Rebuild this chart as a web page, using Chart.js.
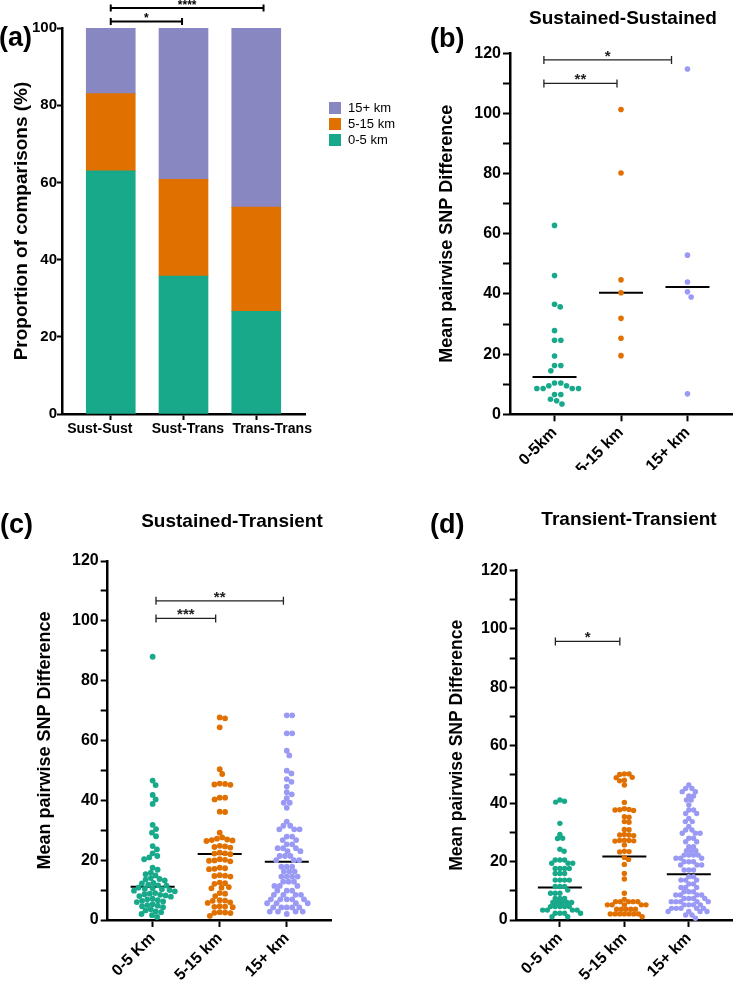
<!DOCTYPE html>
<html>
<head>
<meta charset="utf-8">
<title>Pairwise SNP difference by distance</title>
<script src="https://cdn.jsdelivr.net/npm/chart.js@4.4.1/dist/chart.umd.min.js"></script>
<style>
  html, body { margin: 0; padding: 0; background: #fff; }
  body { position: relative; width: 736px; height: 985px; overflow: hidden; font-family: 'Liberation Sans', Arial, sans-serif; }
  canvas { position: absolute; }
  .tag { position: absolute; font-size: 27px; font-weight: bold; line-height: 1; color: #000; }
  .head { position: absolute; width: 300px; text-align: center; font-size: 19px; font-weight: bold; line-height: 1; color: #000; }
</style>
</head>
<body>
<canvas id="panelA" width="420" height="470" style="left:0;top:0"></canvas>
<canvas id="panelB" width="311" height="470" style="left:425px;top:0"></canvas>
<canvas id="panelC" width="368" height="505" style="left:0;top:480px"></canvas>
<canvas id="panelD" width="368" height="505" style="left:368px;top:480px"></canvas>
<div class="tag" style="left:-1px;top:24px">(a)</div>
<div class="tag" style="left:430px;top:25px">(b)</div>
<div class="tag" style="left:0;top:511px">(c)</div>
<div class="tag" style="left:430px;top:511px">(d)</div>
<div class="head" style="left:473px;top:8px">Sustained-Sustained</div>
<div class="head" style="left:82px;top:511px">Sustained-Transient</div>
<div class="head" style="left:479px;top:509px">Transient-Transient</div>
<script>
Chart.defaults.font.family = "'Liberation Sans', Arial, sans-serif";
Chart.defaults.color = '#000';

// (a) proportion of comparisons per distance band
const pairTypes = ['Sust-Sust', 'Sust-Trans', 'Trans-Trans'];
const bandNames = ['0-5 km', '5-15 km', '15+ km'];
const pct0to5 = [63.0, 35.7, 26.6];
const pct5to15 = [20.0, 25.1, 27.0];
const pct15plus = [17.0, 39.2, 46.4];
const pctTicks = [0, 20, 40, 60, 80, 100];

// (b)-(d) mean pairwise SNP difference
const snpTicks = [0, 20, 40, 60, 80, 100, 120];
const labelsB = ['0-5km', '5-15 km', '15+ km'];
const labelsC = ['0-5 Km', '5-15 km', '15+ km'];
const labelsD = ['0-5 km', '5-15 km', '15+ km'];

// Sustained-Sustained
const susSus0to5 = [62.8, 46.1, 36.6, 35.7, 27.8, 24.6, 24.6, 19.4, 16.2, 16.2, 14.5, 10.4, 10.4,
  9.5, 9.5, 8.6, 8.6, 8.6, 8.6, 6.6, 6.6, 5.0, 4.5, 3.4];
const susSus5to15 = [101.3, 80.2, 44.7, 40.4, 31.9, 25.3, 19.5];
const susSus15plus = [114.8, 52.9, 44.0, 40.7, 39.0, 6.8];
const susSusMedians = [12.4, 40.4, 42.3];

// Sustained-Transient
const susTr0to5 = [88.0, 46.6, 45.1, 41.8, 40.3, 38.8, 31.8, 30.4, 29.2, 28.0, 24.7, 23.6, 22.3, 21.4, 20.9, 20.3,
  17.5, 16.8, 15.8, 15.3, 14.9, 14.0, 13.7, 13.5, 13.2, 12.4, 12.2, 11.8, 11.6, 11.5,
  10.8, 10.6, 10.4, 10.3, 10.0, 9.8, 9.6, 9.0, 8.8, 8.6, 8.4, 8.2, 8.0, 7.8,
  7.1, 6.9, 6.6, 6.4, 6.2, 6.0, 5.3, 5.0, 4.8, 4.6, 4.3,
  3.6, 3.2, 2.9, 2.6, 2.0, 1.6, 1.0];
const susTr5to15 = [67.7, 67.4, 64.4, 50.4, 48.8, 45.6, 45.5, 45.3, 45.2, 40.9, 40.9, 40.3, 36.2, 36.1,
  29.2, 27.6, 27.2, 26.9, 26.7, 26.6, 26.4, 24.8, 24.6, 24.4, 24.2, 22.5, 22.3, 22.2, 22.0,
  20.3, 20.1, 19.9, 19.8, 19.6, 17.5, 17.3, 17.1, 17.0, 15.0, 14.8, 14.7, 14.5,
  12.5, 12.3, 12.1, 11.0, 10.8, 10.6, 9.0, 8.8, 8.0, 6.6, 6.5, 6.4, 5.9, 5.7,
  4.6, 4.5, 4.4, 4.3, 2.6, 2.5, 2.4, 2.3, 1.4];
const susTr15plus = [68.4, 68.4, 62.4, 62.4, 56.6, 55.0, 49.9, 49.0, 47.1, 46.2, 44.6, 42.7, 42.0, 40.7, 39.2, 39.2, 37.5,
  32.9, 31.5, 31.5, 30.3, 30.3, 30.3, 27.9, 27.9, 26.7, 26.7, 25.3, 25.3, 24.0, 24.0, 24.0, 23.0, 23.0,
  21.4, 21.4, 21.4, 20.0, 20.0, 20.0,
  17.8, 17.8, 17.8, 16.2, 16.2, 16.2, 14.5, 14.5, 14.5, 14.5, 12.8, 12.8, 12.8, 11.4, 11.4, 11.4,
  9.8, 9.8, 9.8, 8.4, 8.4, 8.4, 8.4, 6.9, 6.9, 6.9, 6.9, 6.9, 5.6, 5.6, 5.6, 5.6,
  4.2, 4.2, 4.2, 4.2, 4.2, 2.8, 2.8, 2.8, 2.8, 2.0];
const susTrMedians = [11.1, 22.1, 19.5];

// Transient-Transient
const trTr0to5 = [41.2, 40.8, 40.5, 33.2, 29.4, 28.1, 28.0, 24.3, 23.6,
  20.6, 20.6, 20.6, 19.5, 19.5, 19.5, 17.7, 17.7, 17.7, 17.7, 16.0, 16.0, 16.0,
  13.7, 13.7, 13.7, 13.7, 11.5, 11.5, 11.5, 10.3,
  9.2, 9.2, 9.2, 7.4, 7.4, 7.4, 6.0, 6.0, 6.0, 6.0, 6.0,
  4.6, 4.6, 4.6, 4.6, 4.6, 3.4, 3.4, 3.4, 3.4, 2.3, 2.3, 2.3, 2.3, 1.1, 1.1];
const trTr5to15 = [50.2, 50.2, 50.0, 49.0, 48.9, 48.0, 47.8, 46.4, 40.4,
  38.2, 38.0, 37.9, 37.8, 37.6, 35.5, 35.3, 33.8, 33.6, 31.1, 31.0, 29.4, 29.2, 29.2, 29.0,
  27.4, 27.3, 27.3, 27.2, 27.1, 25.8, 23.6, 23.5, 23.4, 21.5,
  20.8, 19.1, 16.0, 14.1, 9.2, 7.1,
  6.3, 6.3, 6.3, 6.3, 6.3, 5.2, 5.2, 5.2, 5.2, 5.2, 3.7, 3.7, 3.7, 3.7, 3.7,
  2.1, 2.1, 2.1, 2.1, 2.1, 2.1, 2.1, 1.1];
const trTr15plus = [46.4, 45.2, 45.2, 44.1, 44.1, 42.6, 42.6, 41.2, 41.2, 39.5, 37.8, 37.8, 36.6, 36.6,
  34.9, 33.8, 33.8, 32.1, 30.9, 30.9, 29.8, 29.8, 29.8, 28.1, 28.1, 26.9, 26.9, 25.2, 25.2,
  23.8, 23.8, 23.8, 22.3, 22.3, 22.3, 22.3, 21.2, 21.2, 21.2, 20.0, 20.0, 20.0, 18.9, 18.9, 18.9,
  17.2, 17.2, 17.2, 14.9, 14.9, 13.7, 13.7, 13.7, 12.4, 12.4, 11.2, 11.2, 11.2, 9.7, 9.7, 9.7,
  8.6, 8.6, 8.6, 8.6, 7.4, 7.4, 7.4, 7.4, 6.3, 6.3, 6.3, 6.3, 6.3,
  5.2, 5.2, 5.2, 5.2, 4.0, 4.0, 4.0, 4.0, 4.0, 2.9, 2.9, 2.9, 2.9,
  1.7, 1.7, 0.6];
const trTrMedians = [11.2, 21.8, 15.7];

// significance brackets (from/to in category units)
const bracketsA = [{ from: 1, to: 3.1, y: 105.2, label: '****' }, { from: 1, to: 1.98, y: 101.7, label: '*' }];
const bracketsB = [{ from: 0.84, to: 2.76, y: 117.8, label: '*' }, { from: 0.84, to: 1.94, y: 110, label: '**' }];
const bracketsC = [{ from: 1.05, to: 2.95, y: 106.7, label: '**' }, { from: 1.05, to: 1.94, y: 100.8, label: '***' }];
const bracketsD = [{ from: 0.93, to: 1.93, y: 95.7, label: '*' }];

// where the (a) category names sit under the bars
const pairLabelSpots = [0.85, 2.06, 3.22];

const green = '#17a98a', orange = '#e07000';
const barPurple = '#8987c2', dotPurple = '#9a9af5';
const dotColors = [green, orange, dotPurple];

function bracketPlugin(items, style) {
  return {
    id: 'sigBrackets',
    afterDraw(chart) {
      const { ctx, scales: { x, y } } = chart;
      ctx.save();
      ctx.strokeStyle = style.color;
      ctx.fillStyle = style.color;
      ctx.lineWidth = style.width;
      ctx.font = style.font;
      ctx.textAlign = 'center';
      ctx.textBaseline = 'alphabetic';
      items.forEach(b => {
        const x1 = x.getPixelForValue(b.from);
        const x2 = x.getPixelForValue(b.to);
        const py = y.getPixelForValue(b.y);
        ctx.beginPath();
        ctx.moveTo(x1, py - style.cap); ctx.lineTo(x1, py + style.cap);
        ctx.moveTo(x1, py); ctx.lineTo(x2, py);
        ctx.moveTo(x2, py - style.cap); ctx.lineTo(x2, py + style.cap);
        ctx.stroke();
        ctx.fillText(b.label, (x1 + x2) / 2, py + 1);
      });
      ctx.restore();
    }
  };
}

function medianPlugin(medians) {
  return {
    id: 'medians',
    beforeDatasetsDraw(chart) {
      const { ctx, scales: { x, y } } = chart;
      ctx.save();
      ctx.strokeStyle = '#000';
      ctx.lineWidth = 2;
      medians.forEach((m, i) => {
        const cx = x.getPixelForValue(i + 1);
        const py = y.getPixelForValue(m);
        ctx.beginPath();
        ctx.moveTo(cx - 22, py);
        ctx.lineTo(cx + 22, py);
        ctx.stroke();
      });
      ctx.restore();
    }
  };
}

const sideLegend = {
  id: 'sideLegend',
  afterDraw(chart) {
    const { ctx, chartArea } = chart;
    const items = chart.data.datasets.slice().reverse();
    ctx.save();
    ctx.font = "13px 'Liberation Sans', Arial, sans-serif";
    ctx.textBaseline = 'middle';
    items.forEach((ds, i) => {
      const bx = chartArea.right + 24;
      const by = chartArea.top + 74 + i * 16;
      ctx.fillStyle = ds.backgroundColor;
      ctx.fillRect(bx, by, 12, 12);
      ctx.fillStyle = '#000';
      ctx.fillText(ds.label, bx + 19, by + 6.5);
    });
    ctx.restore();
  }
};

const axisLine = { color: '#000', width: 2.5 };
const tickMarks = { display: true, offset: false, drawOnChartArea: false, drawTicks: true, tickLength: 7, tickWidth: 2, tickColor: '#000' };

// (a) stacked bars
new Chart(document.getElementById('panelA'), {
  type: 'bar',
  data: {
    datasets: [
      { label: bandNames[0], data: pct0to5.map((v, i) => ({ x: i + 1, y: v })), backgroundColor: green },
      { label: bandNames[1], data: pct5to15.map((v, i) => ({ x: i + 1, y: v })), backgroundColor: orange },
      { label: bandNames[2], data: pct15plus.map((v, i) => ({ x: i + 1, y: v })), backgroundColor: barPurple }
    ]
  },
  options: {
    responsive: false,
    animation: false,
    barThickness: 49,
    borderWidth: 0,
    layout: { padding: { top: 28, right: 115, left: 0, bottom: 0 } },
    plugins: { legend: { display: false }, tooltip: { enabled: false } },
    scales: {
      x: {
        type: 'linear', min: 0.33, max: 3.67, stacked: true, offset: false,
        afterBuildTicks: s => { s.ticks = [1, 2, 3].map(v => ({ value: v })); },
        afterFit: s => { s.height = 7; },
        ticks: { display: false },
        grid: { ...tickMarks, tickLength: 6 }, border: axisLine
      },
      names: {
        type: 'linear', position: 'bottom', min: 0.33, max: 3.67, offset: false,
        afterBuildTicks: s => { s.ticks = pairLabelSpots.map(v => ({ value: v })); },
        afterFit: s => { s.height = 49; },
        ticks: { callback: (v, i) => pairTypes[i], font: { size: 14, weight: 'bold' }, maxRotation: 0, autoSkip: false, padding: 0 },
        grid: { display: false, drawTicks: false, offset: false }, border: { display: false }
      },
      y: {
        min: 0, max: 100, stacked: true,
        afterFit: s => { s.width = 62; },
        ticks: { stepSize: 20, callback: v => pctTicks.includes(v) ? v : '', font: { size: 15, weight: 'bold' }, padding: 0 },
        grid: { ...tickMarks, tickLength: 5 }, border: axisLine,
        title: { display: true, text: 'Proportion of comparisons (%)', font: { size: 19, weight: 'bold' }, padding: { top: 10.6, bottom: 0 } }
      }
    }
  },
  plugins: [sideLegend, bracketPlugin(bracketsA, { color: '#000', width: 2, cap: 3.5, font: "bold 12px 'Liberation Sans', Arial, sans-serif" })]
});

// lay the dots of each group out side by side, like a swarm
function swarm(chart, groups, gap) {
  const { x, y } = chart.scales;
  const unit = x.getPixelForValue(2) - x.getPixelForValue(1);
  groups.forEach((vals, i) => {
    const order = vals.map((v, k) => k).sort((a, b) => vals[b] - vals[a]);
    const placed = [];
    const offsets = [];
    order.forEach(k => {
      const py = y.getPixelForValue(vals[k]);
      const cands = [0];
      placed.forEach(p => {
        const dy = py - p.y;
        if (Math.abs(dy) < gap) {
          const dx = Math.sqrt(gap * gap - dy * dy);
          cands.push(p.x + dx, p.x - dx);
        }
      });
      cands.sort((a, b) => Math.abs(a) - Math.abs(b));
      const px = cands.find(c => placed.every(p => (p.x - c) ** 2 + (p.y - py) ** 2 >= gap * gap - 0.5));
      placed.push({ x: px, y: py });
      offsets[k] = px;
    });
    chart.data.datasets[i].data = vals.map((v, k) => ({ x: i + 1 + offsets[k] / unit, y: v }));
  });
  chart.update('none');
}

function snpPanel(id, groups, medians, labels, brackets, look) {
  const chart = new Chart(document.getElementById(id), {
    type: 'scatter',
    data: {
      datasets: groups.map((vals, i) => ({
        label: bandNames[i],
        data: vals.map(v => ({ x: i + 1, y: v })),
        backgroundColor: dotColors[i],
        pointRadius: look.radius,
        pointBorderWidth: 0,
        clip: false
      }))
    },
    options: {
      responsive: false,
      animation: false,
      layout: { padding: { top: look.top, right: look.right, left: 0, bottom: 0 } },
      plugins: { legend: { display: false }, tooltip: { enabled: false } },
      scales: {
        x: {
          type: 'linear', min: 0.33, max: 3.67,
          afterBuildTicks: s => { s.ticks = [1, 2, 3].map(v => ({ value: v })); },
          afterFit: s => { s.height = look.xHeight; },
          ticks: { callback: v => labels[v - 1], font: { size: 16, weight: 'bold' }, minRotation: 45, maxRotation: 45, autoSkip: false, padding: 2 },
          grid: tickMarks, border: axisLine
        },
        y: {
          min: 0, max: 120,
          afterFit: s => { s.width = look.yWidth; },
          ticks: { stepSize: 10, callback: v => snpTicks.includes(v) ? v : '', font: { size: 16, weight: 'bold' }, padding: 2 },
          grid: tickMarks, border: axisLine,
          title: { display: true, text: 'Mean pairwise SNP Difference', font: { size: look.yTitleSize, weight: 'bold' }, padding: { top: look.yTitlePad, bottom: 0 } }
        }
      }
    },
    plugins: [medianPlugin(medians), bracketPlugin(brackets, { color: '#222', width: 1.3, cap: 4, font: "bold 15px 'Liberation Sans', Arial, sans-serif" })]
  });
  swarm(chart, groups, look.gap);
  return chart;
}

snpPanel('panelB', [susSus0to5, susSus5to15, susSus15plus], susSusMedians, labelsB, bracketsB, {
  top: 53.3, right: 1, xHeight: 55.7, yWidth: 85, yTitleSize: 18, yTitlePad: 11.2, radius: 2.8, gap: 6.3
});

snpPanel('panelC', [susTr0to5, susTr5to15, susTr15plus], susTrMedians, labelsC, bracketsC, {
  top: 81, right: 36.3, xHeight: 65, yWidth: 107.7, yTitleSize: 18, yTitlePad: 34.2, radius: 2.9, gap: 5.4
});

snpPanel('panelD', [trTr0to5, trTr5to15, trTr15plus], trTrMedians, labelsD, bracketsD, {
  top: 90.7, right: 1, xHeight: 65, yWidth: 148.7, yTitleSize: 17.5, yTitlePad: 78.5, radius: 2.7, gap: 4.7
});
</script>
</body>
</html>
